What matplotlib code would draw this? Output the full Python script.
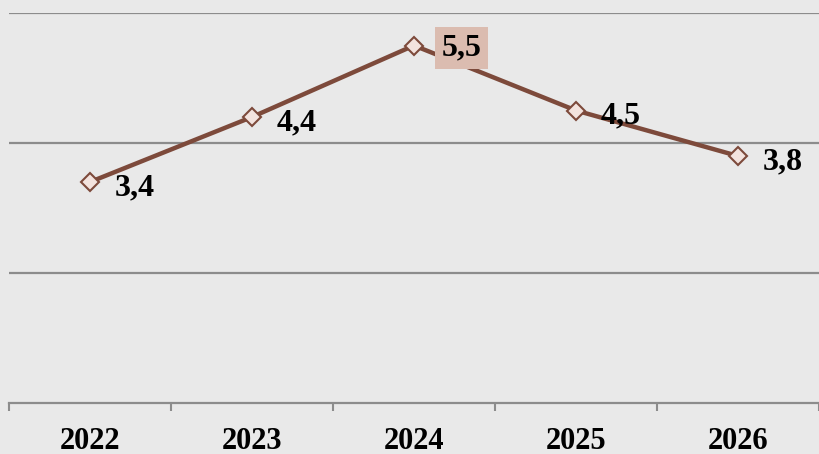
import matplotlib.pyplot as plt
from matplotlib.ticker import FixedLocator

years = ['2022', '2023', '2024', '2025', '2026']
values = [3.4, 4.4, 5.5, 4.5, 3.8]
labels = ['3,4', '4,4', '5,5', '4,5', '3,8']

fig = plt.figure(figsize=(8.19, 4.54), dpi=100)
fig.patch.set_facecolor('#e9e9e9')
ax = fig.add_axes([9 / 819, 1 - 403 / 454, 1 - 9 / 819, (403 - 13) / 454])
ax.set_facecolor('#e9e9e9')

x = list(range(len(years)))
ax.plot(x, values, color='#7d4a3b', linewidth=3.2, marker='D', markersize=9,
        markerfacecolor='#f3e3de', markeredgecolor='#7d4a3b', markeredgewidth=1.5, zorder=3)

for i, (v, lab) in enumerate(zip(values, labels)):
    if i == 2:
        ax.annotate(lab, (i, v), xytext=(20, -2), textcoords='offset points',
                    ha='left', va='center', fontsize=23, fontweight='bold',
                    family='Liberation Serif', color='black', zorder=4,
                    bbox=dict(boxstyle='square,pad=0.2', fc='#dbbcb0', ec='none'))
    else:
        ax.annotate(lab, (i, v), xytext=(18, -4), textcoords='offset points',
                    ha='left', va='center', fontsize=23, fontweight='bold',
                    family='Liberation Serif', color='black', zorder=4)

ax.set_xlim(-0.5, len(years) - 0.5)
ax.set_ylim(0, 6)
ax.set_yticks([2, 4, 6])
ax.yaxis.grid(True, color='#8c8c8c', linewidth=1.6)
ax.tick_params(axis='y', left=False, labelleft=False)
ax.set_xticks(x)
ax.set_xticklabels(years, fontsize=22, fontweight='bold', family='Liberation Serif')
ax.tick_params(axis='x', which='major', length=0, pad=17)
ax.xaxis.set_minor_locator(FixedLocator([i - 0.5 for i in range(len(years) + 1)]))
ax.tick_params(axis='x', which='minor', length=6, width=1.5, color='#8c8c8c', direction='out')

for s in ['top', 'right', 'left']:
    ax.spines[s].set_visible(False)
ax.spines['bottom'].set_color('#8c8c8c')
ax.spines['bottom'].set_linewidth(1.6)
ax.set_axisbelow(True)

fig.savefig('out.png', dpi=100, facecolor=fig.get_facecolor())
